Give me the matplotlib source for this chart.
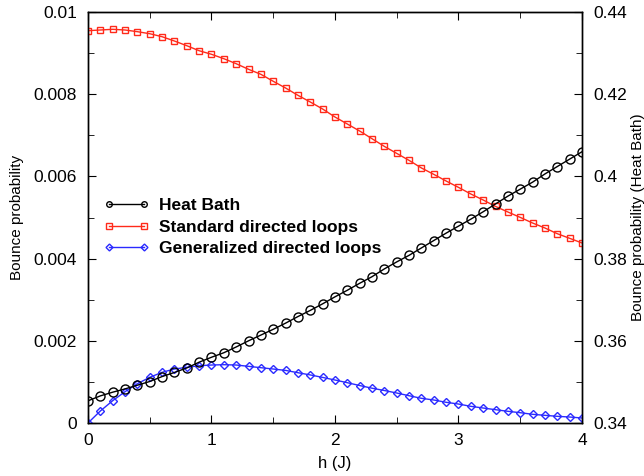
import matplotlib
matplotlib.use("Agg")
import matplotlib.pyplot as plt
from matplotlib.ticker import MultipleLocator, FormatStrFormatter
from matplotlib.lines import Line2D

plt.rcParams['font.family'] = ['Liberation Sans', 'DejaVu Sans']

# field values h (J)
h = [round(0.1 * i, 1) for i in range(41)]

# bounce probabilities, left axis
standard = [9.545e-3, 9.562e-3, 9.579e-3, 9.562e-3, 9.521e-3, 9.472e-3, 9.399e-3, 9.294e-3,
            9.180e-3, 9.058e-3, 8.971e-3, 8.864e-3, 8.742e-3, 8.606e-3, 8.484e-3, 8.314e-3,
            8.151e-3, 7.973e-3, 7.810e-3, 7.640e-3, 7.445e-3, 7.275e-3, 7.104e-3, 6.917e-3,
            6.730e-3, 6.560e-3, 6.390e-3, 6.205e-3, 6.050e-3, 5.888e-3, 5.733e-3, 5.572e-3,
            5.426e-3, 5.270e-3, 5.134e-3, 5.003e-3, 4.866e-3, 4.745e-3, 4.606e-3, 4.494e-3,
            4.380e-3]
generalized = [0.0, 0.292e-3, 0.543e-3, 0.762e-3, 0.956e-3, 1.112e-3, 1.234e-3, 1.314e-3,
               1.355e-3, 1.394e-3, 1.411e-3, 1.419e-3, 1.411e-3, 1.379e-3, 1.346e-3, 1.314e-3,
               1.280e-3, 1.224e-3, 1.170e-3, 1.110e-3, 1.046e-3, 0.981e-3, 0.912e-3, 0.847e-3,
               0.791e-3, 0.730e-3, 0.664e-3, 0.601e-3, 0.560e-3, 0.504e-3, 0.462e-3, 0.406e-3,
               0.365e-3, 0.324e-3, 0.285e-3, 0.251e-3, 0.212e-3, 0.187e-3, 0.163e-3, 0.146e-3,
               0.122e-3]

# heat bath, right axis
heat_bath = [0.3454, 0.3466, 0.3475, 0.3483, 0.3492, 0.3501, 0.3513, 0.3523, 0.3534, 0.3548,
             0.3560, 0.3571, 0.3585, 0.3600, 0.3614, 0.3628, 0.3643, 0.3659, 0.3674, 0.3690,
             0.3707, 0.3723, 0.3740, 0.3756, 0.3775, 0.3792, 0.3808, 0.3826, 0.3844, 0.3862,
             0.3879, 0.3896, 0.3914, 0.3933, 0.3952, 0.3969, 0.3986, 0.4006, 0.4024, 0.4042,
             0.4060]

red = '#ff2a1a'
blue = '#2a2aff'

fig = plt.figure(figsize=(6.44, 4.76), dpi=100)
ax = fig.add_axes([0.1366, 0.1113, 0.7671, 0.8635])
ax2 = ax.twinx()

ax.plot(h, standard, color=red, lw=1, marker='s', ms=5, mfc='none', mec=red, mew=1,
        label='Standard directed loops', zorder=3)
ax.plot(h, generalized, color=blue, lw=1, marker='D', ms=4.5, mfc='none', mec=blue, mew=1,
        label='Generalized directed loops', zorder=3)
ax2.plot(h, heat_bath, color='black', lw=1, marker='o', ms=6.5, mfc='none', mec='black', mew=1,
         label='Heat Bath', zorder=3)

ax.set_xlim(0, 4)
ax.set_ylim(0, 0.01)
ax2.set_ylim(0.34, 0.44)

ax.xaxis.set_major_locator(MultipleLocator(1))
ax.xaxis.set_minor_locator(MultipleLocator(0.5))
ax.yaxis.set_major_locator(MultipleLocator(0.002))
ax.yaxis.set_minor_locator(MultipleLocator(0.001))
ax2.yaxis.set_major_locator(MultipleLocator(0.02))
ax2.yaxis.set_minor_locator(MultipleLocator(0.01))
ax.yaxis.set_major_formatter(FormatStrFormatter('%g'))
ax2.yaxis.set_major_formatter(FormatStrFormatter('%g'))
ax.xaxis.set_major_formatter(FormatStrFormatter('%g'))

ax.tick_params(which='both', direction='in', top=True, labelsize=12.5)
ax.tick_params(axis='y', which='major', length=6, pad=8)
ax.tick_params(axis='x', which='major', length=6, pad=7)
ax.tick_params(which='minor', length=4)
ax2.tick_params(which='both', direction='in', labelsize=12.5)
ax2.tick_params(which='major', length=6, pad=8)
ax2.tick_params(which='minor', length=4)

for a in (ax, ax2):
    for s in a.spines.values():
        s.set_linewidth(1)

ax.set_xlabel('h (J)', fontsize=12, labelpad=6)
ax.set_ylabel('Bounce probability', fontsize=11, labelpad=7)
ax2.set_ylabel('Bounce probability (Heat Bath)', fontsize=11, labelpad=3)

handles = [Line2D([], [], color='black', lw=1, marker='o', ms=4, mfc='none', mec='black'),
           Line2D([], [], color=red, lw=1, marker='s', ms=4, mfc='none', mec=red),
           Line2D([], [], color=blue, lw=1, marker='D', ms=3.5, mfc='none', mec=blue)]
labels = ['Heat Bath', 'Standard directed loops', 'Generalized directed loops']
ax.legend(handles, labels, loc='upper left', bbox_to_anchor=(0.0, 0.585), frameon=False,
          numpoints=2, handlelength=2.6, handletextpad=0.6, labelspacing=0.35,
          prop={'weight': 'bold', 'size': 12.5})

fig.savefig('out.png', dpi=100)
